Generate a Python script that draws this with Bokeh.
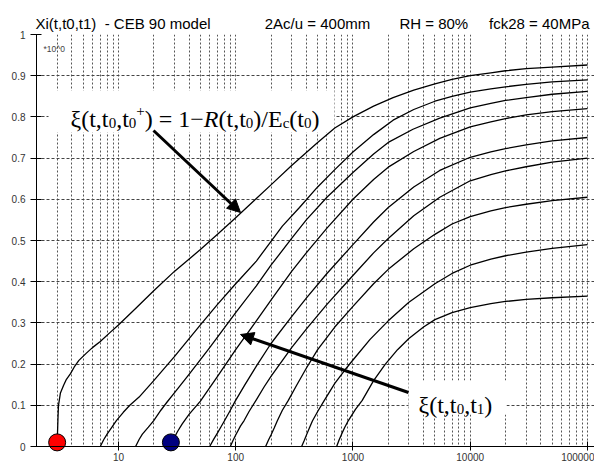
import math
from bokeh.plotting import figure
from bokeh.models import (Range1d, FixedTicker, PrintfTickFormatter, CustomJSTickFormatter,
                          Label, Arrow, NormalHead, BoxAnnotation, Title)
from bokeh.embed import file_html
from bokeh.resources import INLINE

# ---- CEB 90: xi(t, t0, t1), 2Ac/u = 400 mm, RH = 80 %, fck28 = 40 MPa ----
t0 = 3.0      # age at first loading (days)
t1 = 28.0     # marked second age (days)

# xi(t, t0, t0+) = 1 - R(t,t0)/Ec(t0)
t_ref = [3.0, 3.02, 3.05, 3.08, 3.2, 3.4, 3.6, 3.9, 4.2, 4.6, 5.3, 6, 7, 8.5, 10, 14, 20, 30, 50, 70,
         100, 150, 200, 300, 500, 700, 1000, 1500, 2200, 3300, 5000, 7000, 10000, 15000, 20000,
         30000, 50000, 100000]
xi_ref = [0.0, 0.03, 0.07, 0.10, 0.13, 0.148, 0.163, 0.177, 0.193, 0.209, 0.226, 0.24, 0.255, 0.277,
          0.295, 0.335, 0.378, 0.425, 0.478, 0.515, 0.555, 0.602, 0.635, 0.682, 0.738, 0.773, 0.800,
          0.826, 0.847, 0.865, 0.880, 0.891, 0.900, 0.907, 0.912, 0.917, 0.921, 0.926]

# xi(t, t0, t1) for several t1
t_7 = [7, 7.5, 8, 8.8, 9.6, 11, 12.5, 15, 20, 30, 50, 70, 100, 150, 250, 350, 500, 700, 1000, 1500,
       2200, 3300, 5000, 7000, 10000, 15000, 20000, 30000, 50000, 100000]
xi_7 = [0.0, 0.017, 0.03, 0.047, 0.063, 0.083, 0.10, 0.12, 0.16, 0.218, 0.295, 0.345, 0.395, 0.45,
        0.535, 0.58, 0.63, 0.672, 0.715, 0.757, 0.792, 0.818, 0.838, 0.85, 0.86, 0.868, 0.873,
        0.879, 0.885, 0.89]

t_14 = [14, 15, 16, 18, 20, 23, 26, 30, 40, 60, 100, 150, 200, 300, 400, 600, 1000, 1500, 2000, 3250,
        5500, 10000, 15000, 20000, 30000, 50000, 100000]
xi_14 = [0.0, 0.017, 0.03, 0.047, 0.063, 0.088, 0.108, 0.13, 0.175, 0.24, 0.325, 0.39, 0.44, 0.505,
         0.55, 0.605, 0.665, 0.71, 0.738, 0.77, 0.797, 0.822, 0.833, 0.84, 0.847, 0.855, 0.862]

t_28 = [28, 29, 30, 32, 35, 40, 50, 70, 100, 150, 200, 300, 400, 600, 1000, 1500, 2000, 3300, 5500,
        10000, 15000, 20000, 30000, 50000, 100000]
xi_28 = [0.0, 0.012, 0.022, 0.037, 0.055, 0.078, 0.11, 0.17, 0.235, 0.305, 0.355, 0.425, 0.47, 0.53,
         0.60, 0.648, 0.678, 0.716, 0.748, 0.776, 0.788, 0.796, 0.805, 0.813, 0.82]

t_60 = [60, 65, 70, 75, 80, 90, 99, 120, 150, 200, 300, 400, 600, 1000, 1500, 2000, 3300, 5500, 10000,
        15000, 20000, 30000, 50000, 100000]
xi_60 = [0.0, 0.018, 0.033, 0.048, 0.062, 0.088, 0.11, 0.15, 0.195, 0.25, 0.315, 0.36, 0.42, 0.49,
         0.545, 0.58, 0.63, 0.67, 0.702, 0.715, 0.723, 0.732, 0.742, 0.75]

t_90 = [90, 95, 100, 110, 118, 130, 149, 175, 200, 300, 400, 600, 1000, 1500, 2000, 3300, 5500, 10000,
        15000, 20000, 30000, 50000, 100000]
xi_90 = [0.0, 0.015, 0.028, 0.05, 0.063, 0.085, 0.112, 0.145, 0.17, 0.24, 0.285, 0.345, 0.415, 0.47,
         0.505, 0.56, 0.605, 0.645, 0.66, 0.669, 0.679, 0.69, 0.70]

t_180 = [180, 190, 200, 213, 226, 250, 281, 330, 400, 500, 700, 1000, 1500, 2000, 3300, 5000, 7000,
         10000, 15000, 20000, 30000, 50000, 100000]
xi_180 = [0.0, 0.015, 0.028, 0.045, 0.062, 0.088, 0.112, 0.148, 0.19, 0.235, 0.29, 0.34, 0.395, 0.43,
          0.48, 0.515, 0.54, 0.558, 0.572, 0.58, 0.588, 0.597, 0.605]

t_365 = [365, 385, 400, 425, 451, 500, 570, 700, 850, 1000, 1400, 2000, 3000, 5000, 7000, 10000, 15000,
         20000, 30000, 50000, 100000]
xi_365 = [0.0, 0.015, 0.027, 0.045, 0.062, 0.085, 0.112, 0.153, 0.185, 0.21, 0.26, 0.305, 0.35, 0.395,
          0.42, 0.44, 0.455, 0.463, 0.472, 0.481, 0.49]

t_730 = [726, 760, 800, 850, 914, 1050, 1200, 1500, 1890, 2400, 3000, 4000, 5000, 7000, 10000, 15000,
         20000, 30000, 50000, 100000]
xi_730 = [0.0, 0.015, 0.03, 0.046, 0.063, 0.09, 0.112, 0.16, 0.20, 0.235, 0.262, 0.29, 0.308, 0.325,
          0.337, 0.347, 0.352, 0.357, 0.361, 0.365]

x_ticks = [10, 100, 1000, 10000, 100000]
x_minor = [m * 10 ** k for k in range(0, 5) for m in range(2, 10) if m * 10 ** k > 2]
y_ticks = [0, 0.1, 0.2, 0.3, 0.4, 0.5, 0.6, 0.7, 0.8, 0.9, 1.0]

# ---- frame geometry (pixels) ----
LEFT, TOP, BOTTOM, WIDTH, HEIGHT = 36, 34, 446, 594, 464
DECADE = 117.25
X_MIN = 2.0
X_MAX = X_MIN * 10 ** ((WIDTH - LEFT) / DECADE)
Y_SCALE = BOTTOM - TOP                      # pixels per unit of xi
Y_MIN = -(HEIGHT - BOTTOM) / Y_SCALE        # frame runs below xi = 0 so the markers show whole


def px_t(px):
    return X_MIN * 10 ** ((px - LEFT) / DECADE)


def px_y(py):
    return (BOTTOM - py) / Y_SCALE


p = figure(width=WIDTH, height=HEIGHT, x_axis_type="log",
           x_range=Range1d(X_MIN, X_MAX), y_range=Range1d(Y_MIN, 1),
           output_backend="svg", toolbar_location=None,
           min_border_left=LEFT, min_border_right=0,
           min_border_top=TOP, min_border_bottom=0)
p.outline_line_color = None
p.background_fill_color = "white"

# header line
NB = "\u00a0"
header = ("Xi(t,t0,t1)" + NB * 2 + "-" + NB + "CEB" + NB + "90" + NB + "model" + NB * 13 +
          "2Ac/u" + NB + "=" + NB + "400mm" + NB * 7 + "RH" + NB + "=" + NB + "80%" + NB * 5 +
          "fck28" + NB + "=" + NB + "40MPa")
p.add_layout(Title(text=header, text_font="Liberation Sans", text_font_size="15px",
                   text_font_style="normal", text_color="black", align="left",
                   offset=-1, standoff=5), "above")

# grid
p.xgrid.ticker = FixedTicker(ticks=x_ticks, minor_ticks=x_minor)
p.xgrid.grid_line_color = "#555555"
p.xgrid.grid_line_dash = "2 2"
p.xgrid.minor_grid_line_color = "#555555"
p.xgrid.minor_grid_line_dash = "2 2"
p.ygrid.ticker = FixedTicker(ticks=y_ticks[1:])
p.ygrid.grid_line_color = "#444444"
p.ygrid.grid_line_dash = "3 2"

# axes
for ax in (p.xaxis[0], p.yaxis[0]):
    ax.axis_line_color = "black"
    ax.major_tick_line_color = "black"
    ax.minor_tick_in = 0
    ax.minor_tick_out = 0
    ax.major_label_text_font = "Liberation Sans"
    ax.major_label_text_font_size = "10px"
    ax.major_label_text_color = "#333333"

p.xaxis.fixed_location = 0
p.xaxis.ticker = FixedTicker(ticks=x_ticks)
p.xaxis.formatter = PrintfTickFormatter(format="%d")
p.xaxis.major_tick_in = 5
p.xaxis.major_tick_out = 4
p.xaxis.major_label_standoff = 2

p.yaxis.bounds = (0, 1)
p.yaxis.ticker = FixedTicker(ticks=y_ticks)
p.yaxis.formatter = CustomJSTickFormatter(code="return (Math.round(tick*10)/10).toString();")
p.yaxis.major_tick_in = 5
p.yaxis.major_tick_out = 6
p.yaxis.major_label_standoff = 5

# white backing behind the formula labels and below the time axis (hides the grid only)
p.add_layout(BoxAnnotation(bottom=Y_MIN, top=0, fill_color="white", fill_alpha=1.0,
                           line_color=None, level="underlay"))
for l, r, t, b in [(48, 334, 90, 132), (408, 506, 380, 414)]:
    p.add_layout(BoxAnnotation(left=px_t(l), right=px_t(r), top=px_y(t), bottom=px_y(b),
                               fill_color="white", fill_alpha=1.0, line_color=None,
                               level="underlay"))

# curves
curves = [(t_ref, xi_ref), (t_7, xi_7), (t_14, xi_14), (t_28, xi_28), (t_60, xi_60),
          (t_90, xi_90), (t_180, xi_180), (t_365, xi_365), (t_730, xi_730)]
for tt, xx in curves:
    p.line(tt, xx, line_color="black", line_width=1.3, line_join="round")

# loading ages
p.scatter([t0], [0.01], size=17, fill_color="#ff0000", line_color="black", line_width=1)
p.scatter([t1], [0.01], size=17, fill_color="#000080", line_color="black", line_width=1)

# arrows
p.add_layout(Arrow(end=NormalHead(size=13, fill_color="black", line_color="black"),
                   x_start=px_t(153), y_start=px_y(130), x_end=px_t(240), y_end=px_y(212),
                   line_width=3, line_color="black"))
p.add_layout(Arrow(end=NormalHead(size=13, fill_color="black", line_color="black"),
                   x_start=px_t(408), y_start=px_y(392), x_end=px_t(240), y_end=px_y(334),
                   line_width=3, line_color="black"))

# rich formula text built from runs: (text, size, italic, rise)
BIG, SMALL = 24, 15


def run_width(text, size):
    w = {"ξ": 0.45, "(": 0.333, ")": 0.333, "t": 0.278, ",": 0.25, " ": 0.25, "=": 0.564,
         "1": 0.5, "0": 0.5, "−": 0.564, "R": 0.611, "/": 0.278, "E": 0.611, "c": 0.444, "+": 0.564}
    return sum(w.get(ch, 0.5) for ch in text) * size


def formula(runs, px, py):
    x_off = 0.0
    for text, size, italic, rise in runs:
        p.add_layout(Label(x=px_t(px), y=px_y(py), x_offset=x_off, y_offset=rise, text=text,
                           text_font="Liberation Serif", text_font_size=f"{size}px",
                           text_font_style="italic" if italic else "normal",
                           text_color="black", text_baseline="alphabetic", text_align="left"))
        x_off += run_width(text, size)


formula([("ξ(t,t", BIG, False, 0), ("0", SMALL, False, -4), (",t", BIG, False, 0),
         ("0", SMALL, False, -4), ("+", SMALL, False, 8), (") = 1−", BIG, False, 0),
         ("R", BIG, True, 0), ("(t,t", BIG, False, 0), ("0", SMALL, False, -4),
         (")/E", BIG, False, 0), ("c", SMALL, False, -4), ("(t", BIG, False, 0),
         ("0", SMALL, False, -4), (")", BIG, False, 0)], 70, 118)

formula([("ξ(t,t", BIG, False, 0), ("0", SMALL, False, -4), (",t", BIG, False, 0),
         ("1", SMALL, False, -4), (")", BIG, False, 0)], 418, 404)

p.add_layout(Label(x=px_t(43), y=px_y(48), text="*10^0", text_font="Liberation Sans",
                   text_font_size="8.5px", text_color="#444444", text_baseline="alphabetic"))

open("out.html", "w").write(file_html(p, INLINE))
